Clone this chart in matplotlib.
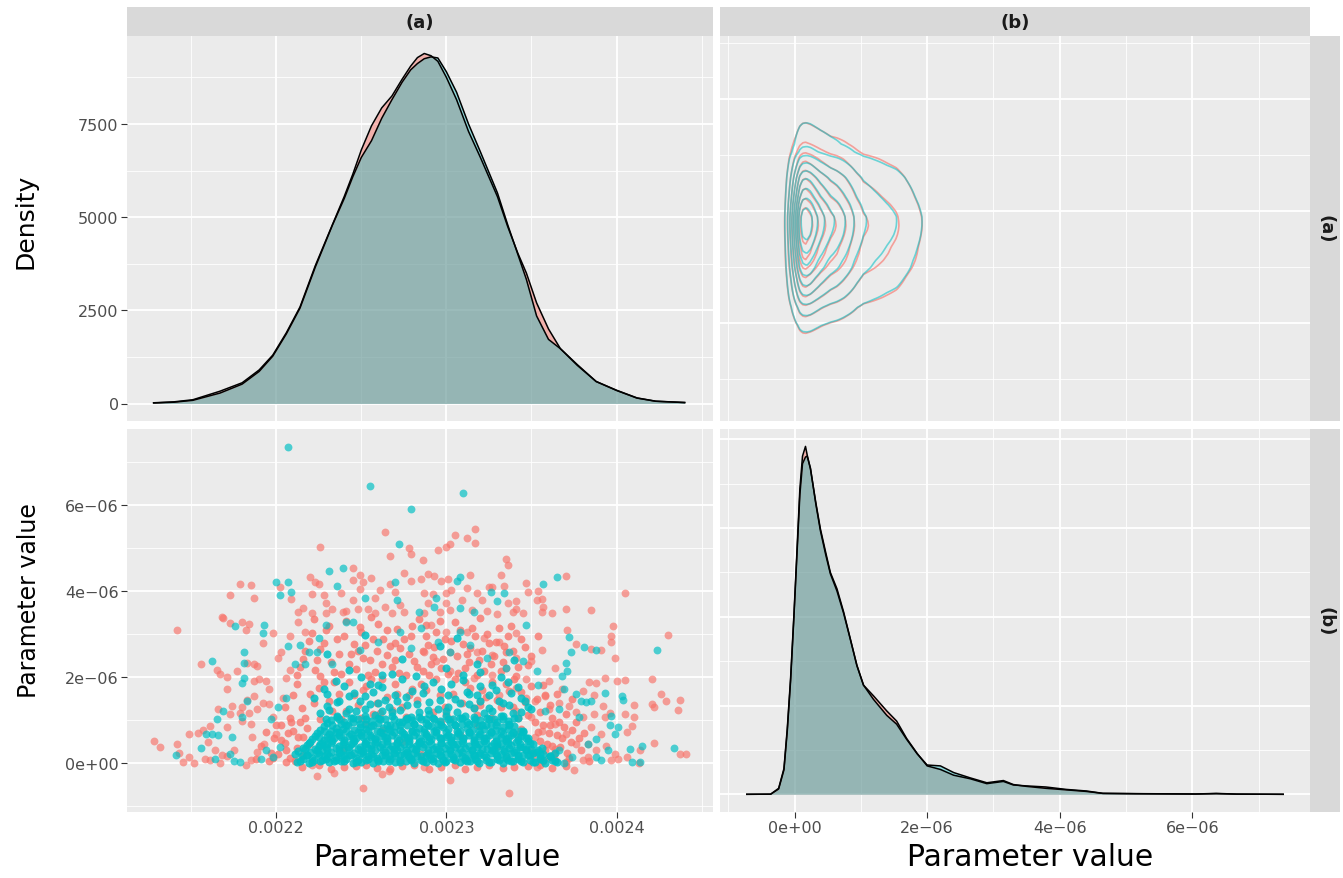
import numpy as np
import matplotlib.pyplot as plt

# Pairs plot of two parameters (a) and (b) for two chains (red / blue)
# all parameter values below are stored in units of 1e-6

RED = '#F8766D'
BLUE = '#00BFC4'

# marginal density of (a)
dens_a_x = [2128, 2140, 2151, 2167, 2180, 2190, 2198, 2206, 2214, 2223,
            2233, 2240, 2245, 2250, 2256, 2262, 2268, 2274, 2279, 2283,
            2287, 2291, 2295, 2300, 2306, 2313, 2320, 2330, 2336, 2342,
            2347, 2353, 2360, 2367, 2377, 2388, 2400, 2412, 2423, 2440]
dens_a_red = [19, 45, 100, 330, 556, 900, 1298, 1900, 2590, 3700,
              4793, 5555, 6150, 6800, 7450, 7930, 8250, 8700, 9050, 9280,
              9390, 9330, 9180, 8750, 8150, 7300, 6600, 5550, 4750, 4030,
              3500, 2700, 2000, 1470, 1020, 590, 355, 150, 62, 27]
dens_a_blue = [15, 35, 85, 280, 520, 860, 1270, 1870, 2560, 3660,
               4780, 5500, 6080, 6600, 7050, 7650, 8150, 8620, 8950, 9120,
               9250, 9300, 9270, 8900, 8350, 7500, 6750, 5650, 4800, 4000,
               3330, 2350, 1720, 1470, 1040, 590, 350, 145, 60, 25]

# marginal density of (b), density in thousands
dens_b_x = [-0.72, -0.36, -0.24, -0.16, -0.11, -0.06, -0.01, 0.04, 0.08, 0.12,
            0.165, 0.19, 0.24, 0.32, 0.39, 0.47, 0.54, 0.64, 0.74, 0.84,
            0.94, 1.04, 1.19, 1.39, 1.54, 1.69, 1.85, 2.00, 2.2, 2.4,
            2.65, 2.9, 3.15, 3.3, 3.49, 3.79, 4.1, 4.4, 4.65, 5.14,
            6.05, 6.36, 6.67, 7.37]
dens_b_red = [0, 0.3, 13.5, 58, 148, 261, 403, 560, 688, 762,
              784, 765, 733, 658, 598, 545, 500, 463, 411, 351,
              291, 246, 222, 188, 165, 126, 92, 64, 56, 43,
              35, 24, 29, 21, 19, 16.5, 11, 7.5, 2.2, 1.5,
              0.7, 2, 0.5, 0]
dens_b_blue = [0, 0.3, 12, 55, 142, 255, 398, 552, 675, 745,
               760, 762, 735, 655, 594, 540, 497, 458, 408, 350,
               290, 246, 214, 178, 158, 124, 91, 66, 64, 49,
               37, 26, 31, 22, 18, 13.5, 10, 6.5, 2, 1.3,
               0.6, 1.5, 0.4, 0]

# scatter (a, b): isolated points
red_sparse = [
    (2264, 5.39), (2226, 5.04), (2278, 5.01), (2279, 4.86), (2267, 4.82), (2179, 4.16), (2185, 4.14), (2173, 3.91),
    (2187, 3.84), (2202, 4.09), (2209, 3.81), (2168, 3.41), (2220, 4.33), (2223, 4.22), (2225, 4.16), (2221, 3.93),
    (2228, 3.91), (2233, 3.60), (2238, 3.97), (2245, 4.54), (2249, 4.39), (2256, 4.32), (2245, 4.27), (2251, 4.22),
    (2249, 4.05), (2245, 3.79), (2258, 3.85), (2261, 4.03), (2267, 4.17), (2270, 3.99), (2275, 4.42), (2279, 4.23),
    (2216, 3.62), (2229, 3.72), (2239, 3.51), (2248, 3.60), (2254, 3.60), (2264, 3.64), (2273, 3.68), (2213, 3.52),
    (2221, 3.49), (2229, 3.49), (2241, 3.54), (2258, 3.49), (2268, 3.49), (2275, 3.52),
    (2317, 5.45), (2305, 5.32), (2312, 5.24), (2317, 5.13), (2302, 5.11), (2300, 5.04), (2295, 4.95), (2286, 4.72),
    (2335, 4.75), (2336, 4.62), (2289, 4.40), (2293, 4.36), (2314, 4.38), (2332, 4.38), (2370, 4.36), (2297, 4.24),
    (2301, 4.28), (2285, 4.29), (2347, 4.19), (2334, 4.13), (2312, 4.07), (2325, 4.11), (2327, 4.09), (2303, 4.02),
    (2300, 3.97), (2287, 3.95), (2292, 3.93), (2318, 3.95), (2348, 3.99), (2354, 4.00), (2405, 3.97), (2321, 3.80),
    (2309, 3.79), (2341, 3.77), (2353, 3.79), (2356, 3.82), (2336, 3.72), (2300, 3.72), (2289, 3.72), (2357, 3.64),
    (2370, 3.59), (2385, 3.57), (2341, 3.60), (2324, 3.55), (2330, 3.48), (2339, 3.52), (2345, 3.49), (2356, 3.52),
    (2362, 3.49), (2315, 3.56), (2302, 3.56), (2296, 3.52), (2287, 3.49),
    (2142, 3.09), (2128, 0.51), (2132, 0.38), (2142, 0.44), (2143, 0.24), (2145, 0.04), (2149, 0.15), (2152, 0.01),
    (2149, 0.69), (2154, 0.71), (2157, 0.77), (2156, 2.31), (2161, 0.86), (2165, 2.17), (2167, 2.07), (2171, 2.01),
    (2171, 1.73), (2177, 2.14), (2166, 1.26), (2174, 1.34), (2171, 0.85), (2160, 0.49), (2158, 0.09), (2161, 0.07),
    (2164, 0.30), (2168, 0.20), (2173, 1.14), (2179, 1.18), (2180, 0.99), (2184, 1.18), (2185, 0.91), (2187, 2.30),
    (2183, 2.33), (2189, 2.27), (2171, 0.16), (2175, 0.30), (2167, 0.00), (2182, -0.05), (2173, 3.26), (2180, 3.29),
    (2182, 3.09), (2169, 3.37), (2184, 3.23), (2192, 2.79), (2198, 3.04), (2203, 2.58), (2201, 2.45), (2187, 1.91),
    (2190, 1.95), (2194, 1.91), (2187, 1.57), (2192, 1.41), (2189, 1.26), (2196, 1.72), (2196, 1.37), (2183, 1.47),
    (2180, 1.30), (2186, 0.61), (2185, 0.07), (2189, 0.26), (2193, 0.45), (2198, 1.07), (2200, 0.68), (2204, 1.53),
    (2206, 1.99), (2208, 2.17), (2213, 3.29), (2208, 2.95), (2217, 3.06), (2221, -0.05), (2224, -0.30), (2234, -0.22),
    (2251, -0.58), (2262, -0.24), (2266, -0.18),
    (2430, 2.99), (2398, 3.20), (2397, 2.95), (2397, 2.82), (2371, 3.10), (2376, 2.77), (2385, 2.66), (2391, 2.63),
    (2399, 2.45), (2421, 1.95), (2426, 1.62), (2429, 1.45), (2421, 1.39), (2422, 1.30), (2437, 1.47), (2436, 1.24),
    (2405, 1.94), (2400, 1.91), (2393, 1.98), (2410, 1.35), (2410, 1.07), (2405, 1.14), (2409, 0.86), (2406, 0.74),
    (2422, 0.48), (2437, 0.22), (2414, 0.30), (2413, 0.01), (2388, 1.87), (2384, 1.89), (2380, 1.68), (2387, 1.60),
    (2392, 1.34), (2396, 1.18), (2393, 1.07), (2387, 1.14), (2380, 1.07), (2366, 1.41), (2372, 1.34), (2376, 1.20),
    (2385, 0.84), (2391, 0.68), (2394, 0.41), (2399, 0.22), (2401, 0.11), (2406, 0.15), (2397, 0.07), (2388, 0.30),
    (2383, 0.45), (2380, 0.07), (2375, -0.15), (2337, -0.68), (2302, -0.38), (2287, -0.08), (2353, -0.08), (2360, 1.91),
    (2364, 2.22), (2356, 2.64), (2350, 2.37), (2347, 1.95), (2368, 1.72), (2358, 1.57), (2352, 1.45), (2360, 1.26),
    (2350, 1.07), (2364, 0.91), (2356, 0.76), (2370, 0.68), (2376, 0.45), (2364, 0.34), (2383, 0.15), (2341, 3.03),
    (2331, 2.83), (2322, 2.91), (2312, 3.06), (2300, 3.06), (2291, 3.22), (2318, 2.60), (2327, 2.53), (2341, 2.45),
    (2335, 2.22), (2327, 2.06), (2316, 1.99), (2302, 2.14), (2294, 2.37), (2287, 2.60), (2341, 1.76), (2331, 1.60),
    (2320, 1.45), (2347, 1.53), (2341, 1.22), (2352, 0.61), (2360, 0.15), (2349, 0.30), (2341, 0.68), (2335, 0.15),
    (2441, 0.22),
]

# scatter (a, b): bulk of the red cloud
red_dense = [
    (2215, -0.08), (2232, -0.12), (2247, -0.06), (2259, -0.10), (2274, -0.07), (2290, -0.13), (2305, -0.05),
    (2318, -0.09), (2333, -0.11), (2348, -0.06), (2362, -0.10),
    (2225, -0.04), (2240, -0.09), (2253, -0.03), (2267, -0.12), (2281, -0.04), (2297, -0.08), (2311, -0.12),
    (2325, -0.03), (2340, -0.08), (2355, -0.03), (2370, -0.06),
    (2196, 0.05), (2201, 0.22), (2205, 0.48), (2208, 0.12), (2210, 0.75), (2203, 0.90), (2212, 0.35), (2216, 0.62),
    (2199, 0.58), (2206, 0.02), (2214, 0.95), (2218, 0.82),
    (2188, 0.10), (2191, 0.40), (2194, 0.72), (2197, 0.25), (2200, 0.88), (2203, 0.55), (2206, 0.30), (2209, 0.95),
    (2211, 0.05), (2213, 0.62), (2216, 0.20), (2219, 0.45), (2207, 0.70), (2198, 0.12),
    (2355, 0.52), (2360, 0.70), (2364, 0.08), (2368, 0.58), (2371, 0.25), (2357, 0.88), (2366, 0.95), (2374, 0.78),
    (2362, 0.40), (2370, 0.02), (2378, 0.60), (2352, 0.97),
    (2351, 0.20), (2354, 0.72), (2357, 0.05), (2359, 0.45), (2361, 0.90), (2363, 0.22), (2365, 0.65), (2367, 0.38),
    (2369, 0.85), (2372, 0.12), (2373, 0.50), (2376, 0.95), (2379, 0.30), (2381, 0.70), (2384, 0.05), (2358, 0.30),
    (2240, 0.35), (2262, 0.78), (2285, 0.22), (2308, 0.65), (2330, 0.40), (2253, 0.92), (2297, 0.95), (2318, 0.88),
    (2274, 0.50), (2344, 0.80),
    (2208, 1.05), (2215, 1.28), (2220, 1.62), (2226, 1.03), (2231, 1.45), (2234, 1.88), (2241, 1.22), (2246, 1.58),
    (2250, 1.05), (2253, 1.80), (2259, 1.40), (2262, 1.97), (2268, 1.25), (2271, 1.62), (2276, 1.08), (2283, 1.48),
    (2285, 1.85), (2292, 1.20), (2296, 1.58), (2302, 1.02), (2305, 1.95), (2309, 1.40), (2314, 1.75), (2318, 1.12),
    (2323, 1.55), (2327, 1.90), (2332, 1.30), (2337, 1.68), (2342, 1.06), (2346, 1.42), (2350, 1.80), (2355, 1.20),
    (2358, 1.60), (2212, 1.85), (2225, 1.75), (2238, 1.02), (2257, 1.15), (2280, 1.72), (2299, 1.30), (2320, 1.36),
    (2340, 1.95), (2362, 1.05),
    (2205, 1.30), (2210, 1.60), (2217, 1.05), (2222, 1.40), (2228, 1.90), (2233, 1.22), (2237, 1.62), (2243, 1.88),
    (2248, 1.35), (2251, 1.70), (2256, 1.95), (2261, 1.18), (2265, 1.55), (2270, 1.85), (2274, 1.30), (2278, 1.60),
    (2288, 1.70), (2294, 1.95), (2300, 1.15), (2304, 1.62), (2311, 1.88), (2316, 1.28), (2321, 1.70), (2326, 1.05),
    (2330, 1.48), (2335, 1.85), (2339, 1.30), (2344, 1.65), (2348, 1.12), (2353, 1.50), (2357, 1.82), (2361, 1.35),
    (2365, 1.62), (2370, 1.15), (2374, 1.50),
    (2212, 2.05), (2216, 2.42), (2219, 2.85), (2223, 2.18), (2226, 2.65), (2229, 3.10), (2232, 2.35), (2236, 2.90),
    (2238, 2.08), (2241, 3.30), (2244, 2.55), (2247, 2.20), (2250, 3.05), (2252, 2.75), (2255, 2.40), (2258, 2.12),
    (2260, 3.25), (2263, 2.88), (2265, 2.52), (2268, 2.25), (2271, 3.12), (2273, 2.68), (2276, 2.05), (2279, 2.95),
    (2281, 2.38), (2284, 3.35), (2286, 2.15), (2289, 2.75), (2292, 2.48), (2294, 3.05), (2297, 2.22), (2299, 2.90),
    (2302, 2.58), (2305, 3.28), (2307, 2.10), (2310, 2.78), (2313, 2.35), (2315, 3.15), (2318, 2.05), (2321, 2.62),
    (2324, 3.00), (2326, 2.30), (2329, 2.82), (2332, 2.15), (2335, 2.58), (2338, 3.20), (2341, 2.02), (2344, 2.88),
    (2348, 2.28), (2226, 2.02), (2248, 2.62), (2270, 2.80), (2290, 2.05), (2312, 2.55), (2334, 2.72), (2222, 3.35),
    (2256, 3.40), (2288, 3.22), (2320, 3.38),
    (2214, 2.25), (2217, 2.62), (2221, 3.02), (2224, 2.40), (2228, 2.80), (2231, 3.20), (2234, 2.12), (2237, 2.55),
    (2240, 2.95), (2243, 2.30), (2246, 2.78), (2249, 3.18), (2251, 2.45), (2254, 2.05), (2257, 2.90), (2259, 2.62),
    (2262, 2.30), (2265, 3.10), (2267, 2.72), (2270, 2.40), (2272, 2.10), (2275, 2.88), (2278, 2.55), (2280, 3.20),
    (2283, 2.25), (2286, 2.62), (2288, 2.95), (2291, 2.30), (2293, 2.70), (2296, 3.30), (2298, 2.42), (2301, 2.08),
    (2303, 2.85), (2306, 2.50), (2308, 3.10), (2311, 2.22), (2314, 2.68), (2317, 2.95), (2319, 2.40), (2322, 2.15),
    (2325, 2.80), (2328, 2.50), (2331, 3.15), (2333, 2.35), (2336, 2.95), (2339, 2.62), (2342, 2.25), (2346, 2.70),
    (2350, 2.50), (2354, 2.95),
]

blue_sparse = [
    (2207, 7.35), (2255, 6.46), (2279, 5.91), (2272, 5.10), (2231, 4.48), (2239, 4.55), (2200, 4.22), (2207, 4.22),
    (2202, 3.92), (2209, 3.99), (2236, 4.12), (2252, 3.85), (2270, 4.22), (2271, 3.79),
    (2310, 6.29), (2357, 4.18), (2365, 4.34), (2308, 4.33), (2306, 4.23), (2294, 3.85), (2326, 3.99), (2334, 3.95),
    (2330, 3.78), (2308, 3.62), (2284, 3.52), (2293, 3.64), (2316, 3.52),
    (2162, 2.39), (2181, 2.59), (2181, 2.33), (2181, 1.99), (2180, 1.87), (2183, 1.45), (2192, 3.03), (2193, 3.22),
    (2176, 3.20), (2165, 1.03), (2162, 0.68), (2159, 0.68), (2166, 0.65), (2156, 0.36), (2141, 0.20), (2174, 0.61),
    (2173, 0.22), (2175, 0.05), (2179, 0.03), (2164, 0.11), (2169, 1.22), (2180, 1.07), (2197, 1.03), (2201, 1.30),
    (2206, 1.53), (2194, 0.30), (2198, 0.15), (2191, 0.11), (2202, 0.38), (2207, 2.72), (2214, 2.76), (2219, 2.60),
    (2224, 2.60), (2211, 2.30), (2217, 2.30), (2233, 2.30), (2225, 2.91), (2229, 3.22), (2241, 3.29), (2249, 2.64),
    (2260, 2.83), (2273, 3.06), (2279, 2.68), (2245, 3.28),
    (2424, 2.64), (2434, 0.35), (2414, 0.03), (2415, 0.40), (2408, 0.34), (2404, 1.47), (2403, 1.57), (2401, 0.84),
    (2399, 0.68), (2396, 0.88), (2393, 1.64), (2397, 1.11), (2388, 0.57), (2381, 2.70), (2388, 2.64), (2373, 2.60),
    (2372, 2.93), (2370, 2.33), (2371, 2.14), (2368, 2.03), (2369, 1.72), (2376, 1.62), (2379, 1.44), (2382, 1.43),
    (2385, 1.44), (2378, 1.07), (2383, 0.45), (2388, 0.15), (2395, 0.30), (2391, 0.07), (2374, 0.15), (2366, 0.30),
    (2366, 1.26), (2358, 1.22), (2353, 2.14), (2345, 2.37), (2354, 1.83), (2347, 3.22), (2337, 2.60), (2335, 2.22),
    (2324, 2.45), (2314, 2.76), (2302, 2.60), (2295, 2.83), (2308, 3.06), (2285, 3.14), (2369, 0.00), (2409, 0.03),
]

# scatter (a, b): bulk of the blue cloud
blue_dense = [
    (2212, 0.03), (2219, 0.00), (2226, 0.05), (2231, 0.02), (2238, 0.06), (2245, 0.01), (2250, 0.04), (2257, 0.00),
    (2263, 0.05), (2270, 0.02), (2276, 0.06), (2281, 0.01), (2288, 0.03), (2295, 0.00), (2300, 0.05), (2308, 0.02),
    (2314, 0.06), (2319, 0.01), (2326, 0.04), (2333, 0.00), (2339, 0.05), (2345, 0.02), (2352, 0.04), (2358, 0.01),
    (2365, 0.03),
    (2216, 0.09), (2222, 0.07), (2229, 0.10), (2235, 0.08), (2241, 0.11), (2248, 0.07), (2254, 0.10), (2260, 0.08),
    (2267, 0.11), (2273, 0.07), (2279, 0.10), (2285, 0.08), (2291, 0.11), (2298, 0.07), (2304, 0.10), (2311, 0.08),
    (2317, 0.11), (2323, 0.07), (2330, 0.10), (2336, 0.08), (2342, 0.11), (2349, 0.07), (2355, 0.10), (2362, 0.08),
    (2215, 0.16), (2221, 0.12), (2228, 0.18), (2235, 0.14), (2240, 0.19), (2247, 0.13), (2254, 0.17), (2259, 0.12),
    (2266, 0.16), (2273, 0.19), (2278, 0.14), (2285, 0.17), (2292, 0.12), (2297, 0.18), (2304, 0.15), (2311, 0.13),
    (2316, 0.19), (2323, 0.14), (2330, 0.17), (2335, 0.12), (2342, 0.16), (2349, 0.19), (2355, 0.13), (2361, 0.17),
    (2211, 0.22), (2218, 0.20), (2224, 0.24), (2230, 0.21), (2237, 0.23), (2243, 0.20), (2250, 0.24), (2256, 0.22),
    (2262, 0.20), (2269, 0.23), (2275, 0.21), (2281, 0.24), (2288, 0.20), (2294, 0.23), (2300, 0.21), (2307, 0.24),
    (2313, 0.22), (2319, 0.20), (2326, 0.23), (2332, 0.21), (2338, 0.24), (2345, 0.20), (2351, 0.23), (2357, 0.21),
    (2364, 0.24),
    (2213, 0.29), (2220, 0.26), (2227, 0.31), (2232, 0.27), (2239, 0.30), (2246, 0.25), (2251, 0.29), (2258, 0.32),
    (2264, 0.26), (2271, 0.30), (2277, 0.27), (2282, 0.31), (2289, 0.25), (2296, 0.29), (2302, 0.32), (2309, 0.27),
    (2315, 0.30), (2320, 0.25), (2327, 0.31), (2334, 0.28), (2340, 0.26), (2347, 0.30), (2353, 0.27),
    (2216, 0.36), (2223, 0.34), (2229, 0.37), (2235, 0.35), (2242, 0.38), (2248, 0.34), (2254, 0.36), (2261, 0.38),
    (2267, 0.34), (2273, 0.37), (2280, 0.35), (2286, 0.38), (2292, 0.34), (2299, 0.36), (2305, 0.38), (2311, 0.35),
    (2318, 0.37), (2324, 0.34), (2330, 0.38), (2337, 0.35), (2343, 0.37), (2350, 0.34), (2356, 0.36),
    (2218, 0.43), (2225, 0.40), (2230, 0.45), (2237, 0.41), (2244, 0.44), (2249, 0.39), (2256, 0.43), (2262, 0.46),
    (2268, 0.40), (2275, 0.44), (2282, 0.41), (2287, 0.45), (2294, 0.39), (2301, 0.43), (2306, 0.46), (2313, 0.41),
    (2319, 0.44), (2326, 0.40), (2332, 0.45), (2338, 0.42), (2345, 0.39), (2351, 0.44),
    (2220, 0.50), (2227, 0.48), (2233, 0.51), (2240, 0.49), (2246, 0.52), (2252, 0.48), (2259, 0.50), (2265, 0.52),
    (2271, 0.48), (2278, 0.51), (2284, 0.49), (2290, 0.52), (2297, 0.48), (2303, 0.50), (2309, 0.52), (2316, 0.49),
    (2322, 0.51), (2328, 0.48), (2335, 0.52), (2341, 0.49), (2348, 0.51),
    (2221, 0.57), (2228, 0.54), (2234, 0.59), (2240, 0.55), (2247, 0.58), (2253, 0.53), (2258, 0.57), (2265, 0.60),
    (2272, 0.55), (2278, 0.58), (2285, 0.53), (2291, 0.57), (2296, 0.60), (2303, 0.54), (2310, 0.58), (2316, 0.55),
    (2322, 0.59), (2329, 0.53), (2335, 0.57), (2342, 0.55), (2348, 0.58),
    (2223, 0.64), (2230, 0.62), (2237, 0.65), (2243, 0.63), (2250, 0.66), (2256, 0.62), (2262, 0.64), (2268, 0.66),
    (2275, 0.62), (2281, 0.65), (2288, 0.63), (2294, 0.66), (2300, 0.62), (2306, 0.64), (2313, 0.66), (2319, 0.63),
    (2325, 0.65), (2332, 0.62), (2338, 0.66), (2344, 0.63),
    (2224, 0.71), (2231, 0.68), (2237, 0.73), (2244, 0.69), (2250, 0.72), (2255, 0.67), (2263, 0.71), (2269, 0.74),
    (2275, 0.68), (2282, 0.72), (2288, 0.69), (2294, 0.73), (2301, 0.67), (2307, 0.71), (2313, 0.74), (2320, 0.69),
    (2326, 0.72), (2333, 0.68), (2339, 0.71), (2345, 0.74),
    (2226, 0.78), (2232, 0.76), (2239, 0.80), (2246, 0.77), (2253, 0.79), (2259, 0.76), (2266, 0.80), (2273, 0.78),
    (2280, 0.76), (2287, 0.79), (2294, 0.77), (2301, 0.80), (2308, 0.76), (2315, 0.78), (2322, 0.80), (2329, 0.77),
    (2336, 0.79), (2343, 0.76),
    (2228, 0.86), (2235, 0.83), (2242, 0.88), (2249, 0.84), (2256, 0.87), (2263, 0.82), (2270, 0.86), (2277, 0.89),
    (2284, 0.83), (2291, 0.87), (2298, 0.84), (2305, 0.88), (2312, 0.82), (2319, 0.86), (2326, 0.89), (2333, 0.84),
    (2340, 0.87),
    (2230, 0.93), (2238, 0.91), (2245, 0.95), (2252, 0.92), (2260, 0.94), (2267, 0.90), (2274, 0.95), (2281, 0.92),
    (2288, 0.94), (2295, 0.91), (2302, 0.95), (2309, 0.92), (2316, 0.94), (2323, 0.90), (2330, 0.95), (2337, 0.92),
    (2232, 1.01), (2240, 0.97), (2248, 1.03), (2256, 0.99), (2264, 1.02), (2272, 0.96), (2280, 1.00), (2288, 1.04),
    (2296, 0.98), (2304, 1.02), (2312, 0.97), (2320, 1.01), (2328, 1.04), (2336, 0.98),
    (2236, 1.07), (2244, 1.05), (2252, 1.09), (2260, 1.06), (2268, 1.10), (2276, 1.04), (2284, 1.08), (2292, 1.06),
    (2300, 1.10), (2308, 1.05), (2316, 1.08), (2324, 1.06), (2332, 1.09), (2340, 1.05),
    (2226, 1.16), (2236, 1.09), (2247, 1.21), (2258, 1.13), (2268, 1.19), (2279, 1.08), (2290, 1.15), (2300, 1.22),
    (2311, 1.11), (2322, 1.18), (2333, 1.10), (2344, 1.20),
    (2231, 1.24), (2241, 1.18), (2252, 1.27), (2262, 1.21), (2273, 1.25), (2284, 1.19), (2295, 1.26), (2306, 1.20),
    (2316, 1.28), (2327, 1.22), (2339, 1.17), (2348, 1.30),
    (2230, 1.34), (2243, 1.27), (2255, 1.38), (2266, 1.30), (2277, 1.36), (2289, 1.25), (2301, 1.32), (2313, 1.39),
    (2325, 1.28), (2337, 1.35), (2350, 1.26),
    (2236, 1.42), (2249, 1.46), (2260, 1.40), (2271, 1.45), (2283, 1.39), (2296, 1.47), (2308, 1.41), (2320, 1.46),
    (2333, 1.40), (2346, 1.44),
    (2222, 1.52), (2237, 1.44), (2252, 1.57), (2264, 1.48), (2276, 1.55), (2290, 1.43), (2305, 1.50), (2318, 1.58),
    (2331, 1.46), (2344, 1.53),
    (2230, 1.62), (2243, 1.56), (2257, 1.65), (2270, 1.60), (2286, 1.64), (2301, 1.58), (2312, 1.66), (2325, 1.60),
    (2338, 1.63),
    (2228, 1.72), (2246, 1.63), (2262, 1.77), (2280, 1.68), (2297, 1.74), (2313, 1.62), (2329, 1.70), (2342, 1.78),
    (2240, 1.80), (2260, 1.83), (2287, 1.79), (2303, 1.84), (2320, 1.80), (2336, 1.88),
    (2235, 1.92), (2255, 1.84), (2274, 1.97), (2292, 1.88), (2310, 1.94), (2327, 1.83),
    (2250, 2.00), (2282, 2.03), (2310, 2.05), (2332, 2.01),
    (2243, 2.16), (2268, 2.08), (2300, 2.22), (2320, 2.12),
    (2230, 2.55), (2252, 2.98), (2274, 2.42), (2296, 2.72), (2318, 2.30), (2262, 2.05), (2306, 2.92), (2340, 2.40),
]

# scatter (a, b): extra blue points where the core is solid
blue_core_fill = [
    (2214, 0.06), (2221, 0.04), (2227, 0.07), (2234, 0.05), (2240, 0.06), (2247, 0.04), (2253, 0.07), (2260, 0.05),
    (2266, 0.06), (2273, 0.04), (2279, 0.07), (2286, 0.05), (2292, 0.06), (2299, 0.04), (2305, 0.07), (2312, 0.05),
    (2318, 0.06), (2325, 0.04), (2331, 0.07), (2338, 0.05), (2344, 0.06), (2351, 0.04), (2357, 0.07), (2364, 0.05),
    (2218, 0.19), (2225, 0.21), (2231, 0.18), (2238, 0.20), (2244, 0.19), (2251, 0.21), (2257, 0.18), (2264, 0.20),
    (2270, 0.19), (2277, 0.21), (2283, 0.18), (2290, 0.20), (2296, 0.19), (2303, 0.21), (2309, 0.18), (2316, 0.20),
    (2322, 0.19), (2329, 0.21), (2335, 0.18), (2342, 0.20), (2348, 0.19), (2355, 0.21), (2361, 0.18),
    (2217, 0.33), (2224, 0.31), (2230, 0.34), (2237, 0.32), (2243, 0.33), (2250, 0.31), (2256, 0.34), (2263, 0.32),
    (2269, 0.33), (2276, 0.31), (2282, 0.34), (2289, 0.32), (2295, 0.33), (2302, 0.31), (2308, 0.34), (2315, 0.32),
    (2321, 0.33), (2328, 0.31), (2334, 0.34), (2341, 0.32), (2347, 0.33), (2354, 0.31),
    (2219, 0.47), (2226, 0.45), (2232, 0.48), (2239, 0.46), (2245, 0.47), (2252, 0.45), (2258, 0.48), (2265, 0.46),
    (2271, 0.47), (2278, 0.45), (2284, 0.48), (2291, 0.46), (2297, 0.47), (2304, 0.45), (2310, 0.48), (2317, 0.46),
    (2323, 0.47), (2330, 0.45), (2336, 0.48), (2343, 0.46), (2349, 0.47),
    (2225, 0.61), (2232, 0.59), (2238, 0.62), (2245, 0.60), (2251, 0.61), (2258, 0.59), (2264, 0.62), (2271, 0.60),
    (2277, 0.61), (2284, 0.59), (2290, 0.62), (2297, 0.60), (2303, 0.61), (2310, 0.59), (2316, 0.62), (2323, 0.60),
    (2329, 0.61), (2336, 0.59), (2342, 0.62), (2347, 0.60),
    (2228, 0.75), (2235, 0.73), (2241, 0.76), (2248, 0.74), (2254, 0.75), (2261, 0.73), (2267, 0.76), (2274, 0.74),
    (2280, 0.75), (2287, 0.73), (2293, 0.76), (2300, 0.74), (2306, 0.75), (2313, 0.73), (2319, 0.76), (2326, 0.74),
    (2332, 0.75), (2339, 0.73), (2345, 0.76),
    (2233, 0.90), (2241, 0.88), (2249, 0.91), (2257, 0.89), (2265, 0.90), (2273, 0.88), (2281, 0.91), (2289, 0.89),
    (2297, 0.90), (2305, 0.88), (2313, 0.91), (2321, 0.89), (2329, 0.90), (2337, 0.88),
    (2229, 1.04), (2237, 1.02), (2245, 1.05), (2253, 1.03), (2261, 1.04), (2269, 1.02), (2277, 1.05), (2285, 1.03),
    (2293, 1.04), (2301, 1.02), (2309, 1.05), (2317, 1.03), (2325, 1.04), (2333, 1.02), (2342, 1.05),
]

a_ticks = [2200, 2300, 2400]
a_tick_labels = ['0.0022', '0.0023', '0.0024']
a_minor = [2150, 2250, 2350, 2450]
b_ticks = [0, 2, 4, 6]
b_tick_labels = ['0e+00', '2e\u221206', '4e\u221206', '6e\u221206']
b_minor = [-1, 1, 3, 5, 7]
dens_a_ticks = [0, 2500, 5000, 7500]
dens_a_minor = [1250, 3750, 6250, 8750]
dens_b_ticks = [0, 200, 400, 600, 800]
dens_b_minor = [100, 300, 500, 700]
strip_labels = ['(a)', '(b)']


def expand(lo, hi, f=0.05):
    r = hi - lo
    return lo - f * r, hi + f * r


red_sp = np.array(red_sparse, dtype=float)
red_dn = np.array(red_dense, dtype=float)
blue_sp = np.array(blue_sparse, dtype=float)
blue_dn = np.array(blue_dense + blue_core_fill, dtype=float)

a_all = np.concatenate([dens_a_x, red_sp[:, 0], red_dn[:, 0], blue_sp[:, 0], blue_dn[:, 0]])
b_all = np.concatenate([dens_b_x, red_sp[:, 1], red_dn[:, 1], blue_sp[:, 1], blue_dn[:, 1]])
a_lim = expand(a_all.min(), a_all.max())
b_lim = expand(b_all.min(), b_all.max())

W, H = 1343, 879
fig = plt.figure(figsize=(W / 100, H / 100), dpi=100)


def px_rect(x0, y0, x1, y1):
    return [x0 / W, 1 - y1 / H, (x1 - x0) / W, (y1 - y0) / H]


def make_panel(box):
    ax = fig.add_axes(px_rect(*box))
    ax.set_facecolor('#EBEBEB')
    for s in ax.spines.values():
        s.set_visible(False)
    ax.set_axisbelow(True)
    return ax


def style_grid(ax, xmaj, xmin, ymaj, ymin):
    ax.set_xticks(xmaj)
    ax.set_xticks(xmin, minor=True)
    ax.set_yticks(ymaj)
    ax.set_yticks(ymin, minor=True)
    ax.grid(which='major', color='white', lw=1.3)
    ax.grid(which='minor', color='white', lw=0.6)
    ax.tick_params(which='minor', length=0)
    ax.tick_params(which='major', length=4, width=0.8, color='#333333',
                   labelcolor='#4D4D4D', labelsize=11.5, pad=2)


def make_strip(box, text, rotation=0):
    ax = fig.add_axes(px_rect(*box))
    ax.set_facecolor('#D9D9D9')
    for s in ax.spines.values():
        s.set_visible(False)
    ax.set_xticks([])
    ax.set_yticks([])
    ax.text(0.5, 0.5, text, transform=ax.transAxes, ha='center', va='center',
            fontsize=13, fontweight='bold', color='#1A1A1A', rotation=rotation)


col_x = [(127, 713), (720, 1310)]
row_y = [(37, 422), (430, 812.7)]

# --- top-left: density of (a)
ax_tl = make_panel((col_x[0][0], row_y[0][0], col_x[0][1], row_y[0][1]))
ax_tl.fill_between(dens_a_x, dens_a_red, color=RED, alpha=0.5, lw=0)
ax_tl.plot(dens_a_x, dens_a_red, color='black', lw=1.1)
ax_tl.fill_between(dens_a_x, dens_a_blue, color=BLUE, alpha=0.38, lw=0)
ax_tl.plot(dens_a_x, dens_a_blue, color='black', lw=1.1)
ax_tl.set_xlim(a_lim)
ax_tl.set_ylim(expand(0, max(max(dens_a_red), max(dens_a_blue))))
style_grid(ax_tl, a_ticks, a_minor, dens_a_ticks, dens_a_minor)
ax_tl.set_yticklabels([str(v) for v in dens_a_ticks])
ax_tl.tick_params(labelbottom=False, bottom=False)

# --- top-right: 2d density contours, x = (b), y = (a)
ax_tr = make_panel((col_x[1][0], row_y[0][0], col_x[1][1], row_y[0][1]))
grid_a = np.linspace(a_lim[0], a_lim[1], 400)
grid_b = np.linspace(b_lim[0], b_lim[1], 400)
z_red = np.outer(np.interp(grid_a, dens_a_x, dens_a_red), np.interp(grid_b, dens_b_x, dens_b_red))
z_blue = np.outer(np.interp(grid_a, dens_a_x, dens_a_blue), np.interp(grid_b, dens_b_x, dens_b_blue))
z_top = max(z_red.max(), z_blue.max())
levels = np.arange(1, 10) / 10 * z_top
ax_tr.contour(grid_b, grid_a, z_red, levels=levels, colors=RED, linewidths=1.2, alpha=0.65)
ax_tr.contour(grid_b, grid_a, z_blue, levels=levels, colors=BLUE, linewidths=1.2, alpha=0.55)
ax_tr.set_xlim(b_lim)
ax_tr.set_ylim(a_lim)
style_grid(ax_tr, b_ticks, b_minor, a_ticks, a_minor)
ax_tr.tick_params(labelbottom=False, bottom=False, labelleft=False, left=False)

# --- bottom-left: scatter, x = (a), y = (b)
# the bulk points overlap many times in the original, so they are drawn more opaque
ax_bl = make_panel((col_x[0][0], row_y[1][0], col_x[0][1], row_y[1][1]))
ax_bl.scatter(red_sp[:, 0], red_sp[:, 1], s=32, color=RED, alpha=0.68, linewidths=0)
ax_bl.scatter(red_dn[:, 0], red_dn[:, 1], s=32, color=RED, alpha=0.8, linewidths=0)
ax_bl.scatter(blue_sp[:, 0], blue_sp[:, 1], s=32, color=BLUE, alpha=0.68, linewidths=0)
ax_bl.scatter(blue_dn[:, 0], blue_dn[:, 1], s=34, color=BLUE, alpha=0.85, linewidths=0)
ax_bl.set_xlim(a_lim)
ax_bl.set_ylim(b_lim)
style_grid(ax_bl, a_ticks, a_minor, b_ticks, b_minor)
ax_bl.set_xticklabels(a_tick_labels)
ax_bl.set_yticklabels(b_tick_labels)

# --- bottom-right: density of (b)
ax_br = make_panel((col_x[1][0], row_y[1][0], col_x[1][1], row_y[1][1]))
ax_br.fill_between(dens_b_x, dens_b_red, color=RED, alpha=0.5, lw=0)
ax_br.plot(dens_b_x, dens_b_red, color='black', lw=1.1)
ax_br.fill_between(dens_b_x, dens_b_blue, color=BLUE, alpha=0.38, lw=0)
ax_br.plot(dens_b_x, dens_b_blue, color='black', lw=1.1)
ax_br.set_xlim(b_lim)
ax_br.set_ylim(expand(0, max(max(dens_b_red), max(dens_b_blue))))
style_grid(ax_br, b_ticks, b_minor, dens_b_ticks, dens_b_minor)
ax_br.set_xticklabels(b_tick_labels)
ax_br.tick_params(labelleft=False, left=False)

# --- strips
make_strip((col_x[0][0], 8, col_x[0][1], row_y[0][0]), strip_labels[0])
make_strip((col_x[1][0], 8, col_x[1][1], row_y[0][0]), strip_labels[1])
make_strip((col_x[1][1], row_y[0][0], 1340, row_y[0][1]), strip_labels[0], rotation=-90)
make_strip((col_x[1][1], row_y[1][0], 1340, row_y[1][1]), strip_labels[1], rotation=-90)

# --- axis titles
fig.text(437 / W, 1 - 858 / H, 'Parameter value', ha='center', va='center', fontsize=21.5)
fig.text(1030 / W, 1 - 858 / H, 'Parameter value', ha='center', va='center', fontsize=21.5)
fig.text(25 / W, 1 - 221 / H, 'Density', ha='center', va='center', fontsize=18, rotation=90)
fig.text(29 / W, 1 - 601 / H, 'Parameter value', ha='center', va='center', fontsize=17, rotation=90)

fig.savefig('out.png', dpi=100, facecolor='white')
